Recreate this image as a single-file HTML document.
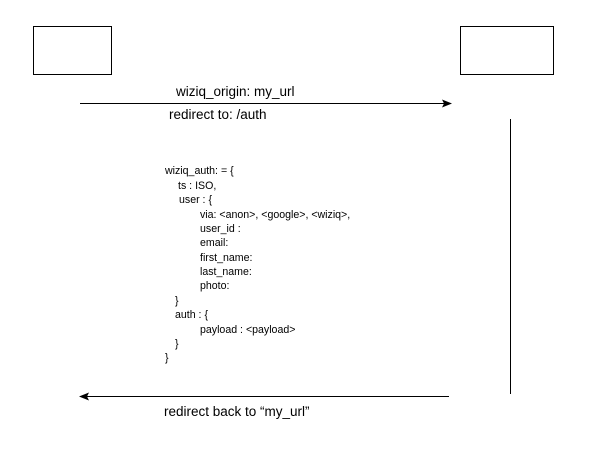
<!DOCTYPE html>
<html><head><style>
body{margin:0;background:#fff;width:595px;height:452px;position:relative;overflow:hidden;font-family:"Liberation Sans",sans-serif;color:#000}
.t{position:absolute;white-space:nowrap;font-size:10.6px;line-height:10px}
.l{position:absolute;white-space:nowrap;font-size:13.5px;line-height:13px}
</style></head><body>
<svg width="595" height="452" style="position:absolute;left:0;top:0">
<rect x="33.5" y="26.5" width="78" height="48" fill="none" stroke="#000" stroke-width="1"/>
<rect x="460.5" y="26.5" width="93" height="48" fill="none" stroke="#000" stroke-width="1"/>
<line x1="80" y1="103.5" x2="444" y2="103.5" stroke="#000" stroke-width="1"/>
<polygon points="452,103.5 442,99.5 444,103.5 442,107.5" fill="#000"/>
<line x1="510.5" y1="119" x2="510.5" y2="394" stroke="#000" stroke-width="1"/>
<line x1="87" y1="396.5" x2="449" y2="396.5" stroke="#000" stroke-width="1"/>
<polygon points="79,396.5 89,392.5 87,396.5 89,400.5" fill="#000"/>
</svg>
<div class="l" style="left:176px;top:85px">wiziq_origin: my_url</div>
<div class="l" style="left:169px;top:108px">redirect to: /auth</div>
<div class="l" style="left:164px;top:405px">redirect back to “my_url”</div>
<div class="t" style="left:165px;top:166px">wiziq_auth: = {</div>
<div class="t" style="left:178px;top:181px">ts : ISO,</div>
<div class="t" style="left:179px;top:195px">user : {</div>
<div class="t" style="left:200px;top:210px">via: &lt;anon&gt;, &lt;google&gt;, &lt;wiziq&gt;,</div>
<div class="t" style="left:200px;top:224px">user_id :</div>
<div class="t" style="left:200px;top:238px">email:</div>
<div class="t" style="left:200px;top:253px">first_name:</div>
<div class="t" style="left:200px;top:267px">last_name:</div>
<div class="t" style="left:200px;top:281px">photo:</div>
<div class="t" style="left:175px;top:296px">}</div>
<div class="t" style="left:175px;top:310px">auth : {</div>
<div class="t" style="left:200px;top:325px">payload : &lt;payload&gt;</div>
<div class="t" style="left:175px;top:339px">}</div>
<div class="t" style="left:165px;top:353px">}</div>
</body></html>
